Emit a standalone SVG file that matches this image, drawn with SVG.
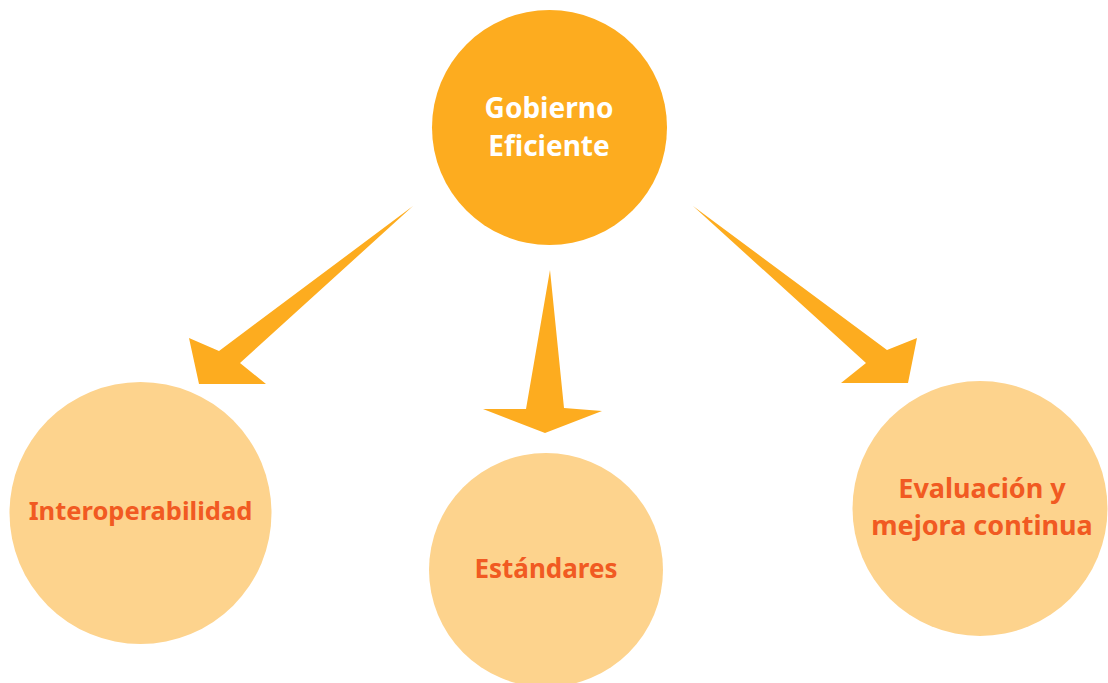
<svg xmlns="http://www.w3.org/2000/svg" width="1108" height="683" viewBox="0 0 1108 683">
<style>
.main{fill:#FDAC1F}
.sub{fill:#FDD38D}
.arrow{fill:#FDAC1F}
text{font-family:"Noto Sans","Open Sans","Liberation Sans",sans-serif;font-weight:bold;text-anchor:middle}
.tw{fill:#FFFFFF;font-size:28px}
.to{fill:#F15A22;font-size:26px}
.tr{font-size:27px}
</style>
<rect width="1108" height="683" fill="#FFFFFF"/>
<g id="connectors">
<polygon class="arrow" points="413,206 240,363 266,384 199,384 189,338 219,351"/>
<polygon class="arrow" points="550,270 564,408 602,411 545,433 483,409 526,409"/>
<polygon class="arrow" points="693,206 887,350 917,338 908,383 841,383 866,363"/>
</g>
<g id="node-gobierno">
<circle class="main" cx="549.5" cy="127.5" r="117.5"/>
<text class="tw" x="549" y="118">Gobierno</text>
<text class="tw" x="549" y="156">Eficiente</text>
</g>
<g id="node-interoperabilidad">
<circle class="sub" cx="140.5" cy="513" r="131"/>
<text class="to" x="140.5" y="520" style="font-size:25.5px">Interoperabilidad</text>
</g>
<g id="node-estandares">
<circle class="sub" cx="546" cy="570" r="117"/>
<text class="to" x="546" y="578">Estándares</text>
</g>
<g id="node-evaluacion">
<circle class="sub" cx="980" cy="508.5" r="127.5"/>
<text class="to tr" x="982" y="498">Evaluación y</text>
<text class="to tr" x="982" y="535">mejora continua</text>
</g>
</svg>
